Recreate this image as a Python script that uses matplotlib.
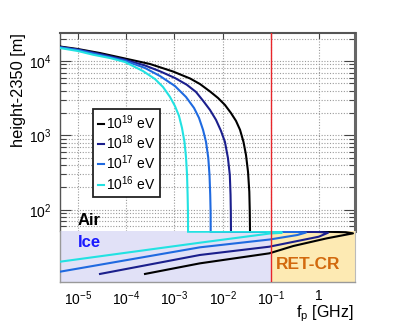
import numpy as np
import matplotlib
matplotlib.use('Agg')
import matplotlib.pyplot as plt
from matplotlib.ticker import LogLocator, NullLocator, FixedLocator, NullFormatter, FixedFormatter

plt.rcParams['font.family'] = ['Liberation Sans', 'DejaVu Sans']
plt.rcParams['mathtext.fontset'] = 'custom'
plt.rcParams['mathtext.rm'] = 'Liberation Sans'
plt.rcParams['mathtext.it'] = 'Liberation Sans:italic'
plt.rcParams['mathtext.bf'] = 'Liberation Sans:bold'

# ---------------- data ----------------
labels = ['$10^{19}$ eV', '$10^{18}$ eV', '$10^{17}$ eV', '$10^{16}$ eV']
colors = ['#000000', '#1b1f8c', '#1f6ae0', '#22e2e2']

# air: frequency [GHz] vs height-2350 [m]
f_air_19 = [4.24e-6, 1.0e-5, 2.86e-5, 9.42e-5, 3.11e-4, 9.31e-4, 2.10e-3, 3.37e-3, 5.44e-3, 7.97e-3,
            1.11e-2, 1.48e-2, 1.88e-2, 2.28e-2, 2.69e-2, 3.03e-2, 3.34e-2, 3.55e-2, 3.63e-2, 3.67e-2]
h_air_19 = [15670, 14490, 12800, 10810, 9120, 7230, 5830, 4910, 3900, 3190,
            2570, 2000, 1570, 1190, 818, 547, 324, 175, 94, 52]
f_air_18 = [4.24e-6, 1.0e-5, 2.86e-5, 9.42e-5, 2.45e-4, 5.00e-4, 1.02e-3, 1.79e-3, 2.79e-3, 3.95e-3,
            5.44e-3, 7.24e-3, 9.20e-3, 1.11e-2, 1.28e-2, 1.40e-2, 1.45e-2, 1.47e-2, 1.48e-2]
h_air_18 = [15420, 14270, 12410, 10410, 8710, 7280, 5920, 4810, 3840, 2900,
            2200, 1620, 1150, 818, 499, 295, 159, 94, 52]
f_air_17 = [4.24e-6, 1.0e-5, 2.86e-5, 9.42e-5, 2.45e-4, 5.00e-4, 1.02e-3, 1.73e-3, 2.54e-3, 3.22e-3,
            3.90e-3, 4.50e-3, 5.01e-3, 5.31e-3, 5.50e-3, 5.60e-3, 5.62e-3]
h_air_17 = [15280, 14050, 12040, 10090, 8060, 6290, 4620, 3290, 2340, 1720,
            1190, 818, 499, 295, 159, 94, 52]
f_air_16 = [4.24e-6, 1.0e-5, 2.05e-5, 4.61e-5, 9.42e-5, 2.22e-4, 3.94e-4, 5.78e-4, 8.07e-4, 1.02e-3,
            1.24e-3, 1.43e-3, 1.61e-3, 1.73e-3, 1.82e-3, 1.87e-3, 1.90e-3, 1.91e-3]
h_air_16 = [14940, 13620, 12150, 10970, 9700, 7340, 5730, 4480, 3290, 2490,
            1830, 1260, 818, 514, 295, 159, 94, 52]

# ice: frequency [GHz] vs depth (arbitrary units)
f_ice_19 = [3.67e-2, 1.58, 3.55, 5.0, 1.43, 0.29, 9.2e-2, 3.37e-3, 2.45e-4]
d_ice_19 = [0.07, 0.08, 0.12, 0.23, 0.72, 1.47, 2.19, 3.17, 4.21]
f_ice_18 = [1.48e-2, 0.501, 1.0, 1.52, 0.975, 9.2e-2, 3.37e-3, 2.86e-5]
d_ice_18 = [0.07, 0.08, 0.10, 0.17, 0.56, 1.54, 2.35, 4.21]
f_ice_17 = [5.62e-3, 0.158, 0.355, 0.531, 0.355, 9.5e-2, 3.37e-3, 4.24e-6]
d_ice_17 = [0.07, 0.08, 0.10, 0.15, 0.39, 0.83, 1.60, 3.99]
f_ice_16 = [1.91e-3, 3.16e-2, 0.1, 0.141, 0.17, 0.141, 9.5e-2, 3.37e-3, 4.24e-6]
d_ice_16 = [0.07, 0.07, 0.08, 0.10, 0.15, 0.20, 0.245, 1.147, 3.01]

xticks = [1e-5, 1e-4, 1e-3, 1e-2, 1e-1, 1]
xtick_labels = ['$10^{-5}$', '$10^{-4}$', '$10^{-3}$', '$10^{-2}$', '$10^{-1}$', '1']
yticks = [1e2, 1e3, 1e4]
ytick_labels = ['$10^{2}$', '$10^{3}$', '$10^{4}$']
f_cut = 0.1

air_f = [f_air_19, f_air_18, f_air_17, f_air_16]
air_h = [h_air_19, h_air_18, h_air_17, h_air_16]
ice_f = [f_ice_19, f_ice_18, f_ice_17, f_ice_16]
ice_d = [d_ice_19, d_ice_18, d_ice_17, d_ice_16]

# ---------------- figure ----------------
W, H = 399, 328
fig = plt.figure(figsize=(W / 100, H / 100), dpi=100)
L, R = 60, 355
T, S, B = 33, 231, 282
ax = fig.add_axes([L / W, 1 - S / H, (R - L) / W, (S - T) / H])
axi = fig.add_axes([L / W, 1 - B / H, (R - L) / W, (B - S) / H])

xlim = (4.24e-6, 5.5)
grid_kw = dict(color='#9a9a9a', linestyle=(0, (1, 1.5)), linewidth=0.8)

# air axes
ax.set_xscale('log')
ax.set_yscale('log')
ax.set_xlim(*xlim)
ax.set_ylim(52, 2.38e4)
ax.xaxis.set_major_locator(FixedLocator(xticks))
ax.xaxis.set_minor_locator(NullLocator())
ax.xaxis.set_major_formatter(NullFormatter())
ax.yaxis.set_major_locator(FixedLocator(yticks))
ax.yaxis.set_major_formatter(FixedFormatter(ytick_labels))
ax.yaxis.set_minor_locator(LogLocator(base=10, subs=np.arange(2, 10)))
ax.yaxis.set_minor_formatter(NullFormatter())
ax.grid(True, which='major', axis='x', **grid_kw)
ax.grid(True, which='both', axis='y', **grid_kw)
ax.set_axisbelow(True)
ax.tick_params(axis='y', which='major', direction='in', length=8, width=0.8,
               left=True, right=True, labelsize=10, pad=6, color='#444444')
ax.tick_params(axis='y', which='minor', direction='in', length=4, width=0.8,
               left=True, right=True, color='#444444')
ax.tick_params(axis='x', which='major', direction='in', length=4, width=0.8,
               top=True, bottom=False, labelbottom=False, color='#444444')
ax.spines['bottom'].set_visible(False)
ax.spines['top'].set_color('#555555')
ax.spines['top'].set_linewidth(1.5)
ax.spines['right'].set_color('#666666')
ax.spines['right'].set_linewidth(2.2)
ax.spines['left'].set_color('#555555')
ax.spines['left'].set_linewidth(1.0)

for f, h, c, lab in zip(air_f, air_h, colors, labels):
    ax.plot(f, h, color=c, lw=1.5, label=lab, zorder=3, solid_joinstyle='round')
ax.axvline(f_cut, color='#e8262b', lw=1.0, zorder=4)

leg = ax.legend(loc='upper left', bbox_to_anchor=(0.113, 0.616), fontsize=10,
                handlelength=0.45, handletextpad=0.15, labelspacing=0.12,
                borderpad=0.3, borderaxespad=0.0, frameon=True, fancybox=False)
leg.get_frame().set_edgecolor('#222222')
leg.get_frame().set_linewidth(1.3)
leg.get_frame().set_alpha(1)
leg.set_zorder(5)

ax.text(1e-5, 62, 'Air', fontsize=12, fontweight='bold', color='black',
        ha='left', va='baseline', zorder=5)

# ice axes
axi.set_xscale('log')
axi.set_xlim(*xlim)
axi.set_ylim(5, 0)
axi.axvspan(xlim[0], f_cut, color='#e1e1f7', zorder=0, lw=0)
axi.axvspan(f_cut, xlim[1], color='#fdeab3', zorder=0, lw=0)
for f, d, c in zip(ice_f, ice_d, colors):
    axi.plot(f, d, color=c, lw=1.5, zorder=3, solid_joinstyle='round')
axi.axvline(f_cut, color='#e8262b', lw=1.0, zorder=4)
axi.xaxis.set_major_locator(FixedLocator(xticks))
axi.xaxis.set_major_formatter(FixedFormatter(xtick_labels))
axi.xaxis.set_minor_locator(NullLocator())
axi.yaxis.set_major_locator(NullLocator())
axi.yaxis.set_minor_locator(NullLocator())
axi.tick_params(axis='x', which='major', length=0, labelsize=10, pad=5)
axi.spines['top'].set_visible(False)
axi.spines['right'].set_color('#bbbbbb')
axi.spines['right'].set_linewidth(0.8)
axi.spines['left'].set_color('#999999')
axi.spines['bottom'].set_color('#999999')
axi.spines['left'].set_linewidth(1.0)
axi.spines['bottom'].set_linewidth(1.0)

axi.text(1e-5, 1.55, 'Ice', fontsize=12, fontweight='bold', color='#1a1aff',
         ha='left', va='baseline', zorder=5)
axi.text(0.125, 3.75, 'RET-CR', fontsize=12.5, fontweight='bold', color='#d2690e',
         ha='left', va='baseline', zorder=5)

fig.text(18.5 / W, 1 - T / H, 'height-2350 [m]', rotation=90, ha='center', va='top',
         fontsize=11.8)
fig.text(354 / W, 1 - 313.5 / H, r'$\mathrm{f_p}$ [GHz]', ha='right', va='center',
         fontsize=11.5)

fig.savefig('out.png', dpi=100)
